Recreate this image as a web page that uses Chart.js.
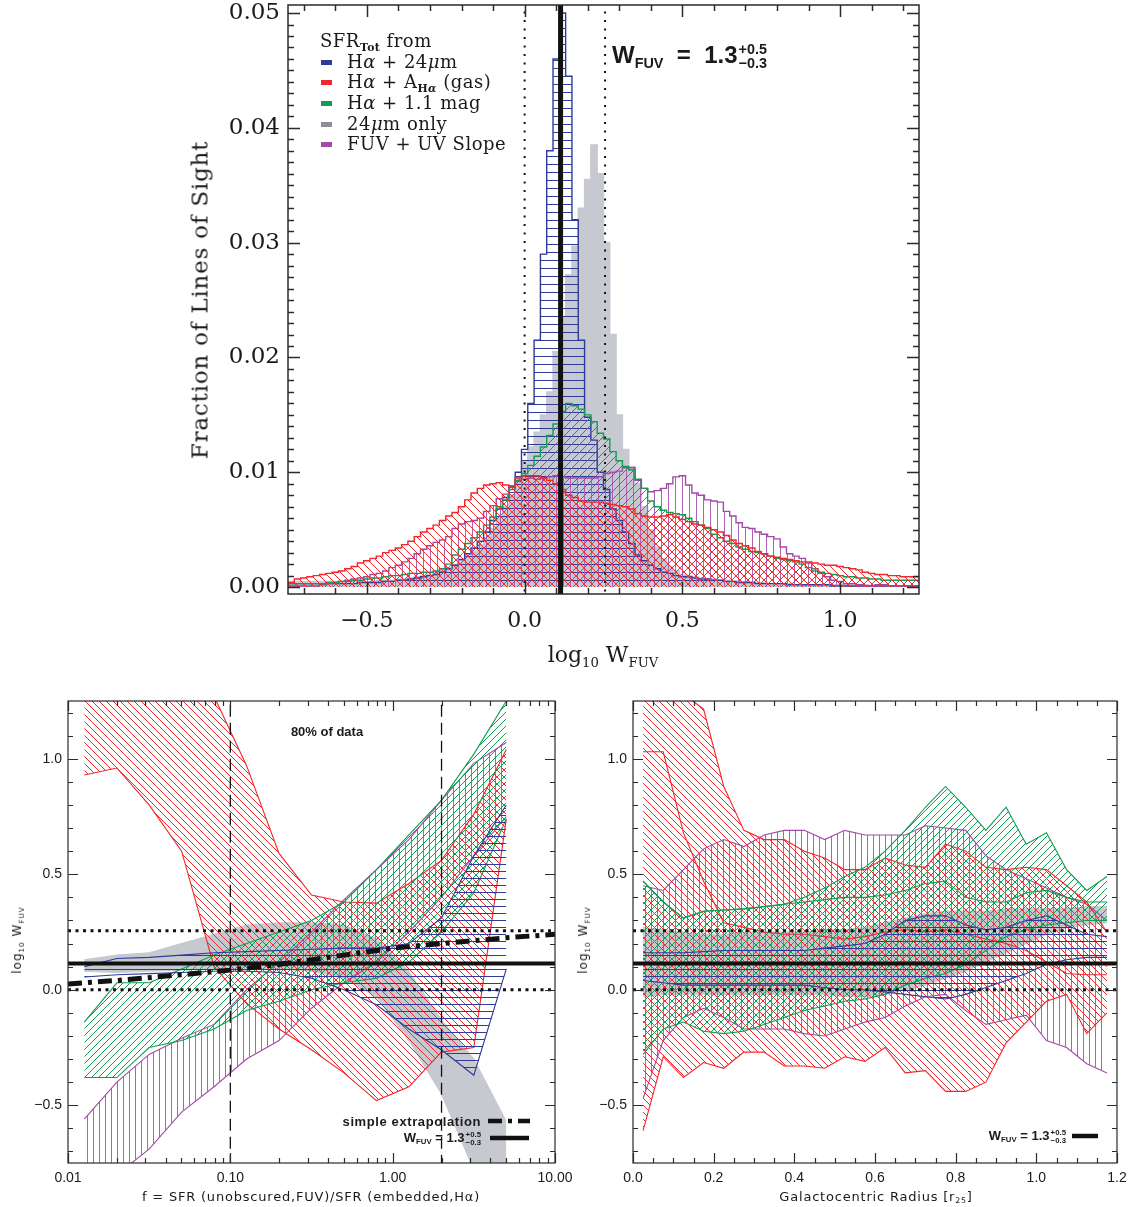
<!DOCTYPE html>
<html lang="en">
<head>
<meta charset="UTF-8">
<title>W_FUV calibration</title>
<script src="https://cdn.jsdelivr.net/npm/chart.js@4.4.1/dist/chart.umd.min.js"></script>
<style>
  body{margin:0;background:#fff}
  #page{position:relative;width:1135px;height:1207px;overflow:hidden;background:#fff;color:#1a1a1a}
  canvas{position:absolute;left:0;top:0}
  .t{position:absolute;white-space:nowrap;line-height:1}
  .t sub{font-size:0.6em;vertical-align:-0.35em;line-height:0}
  .serif{font-family:'DejaVu Serif',serif}
  .sans{font-family:'DejaVu Sans',sans-serif}
  .bold{font-family:'Liberation Sans',Arial,sans-serif;font-weight:bold}
  .stack{display:inline-flex;flex-direction:column;vertical-align:middle;line-height:0.95;font-size:0.6em;margin-left:1px}
  .sw{position:absolute;width:11px;height:5px}
  .rot{transform:translate(-50%,-50%) rotate(-90deg)}
  .c{transform:translate(-50%,-50%)}
  .l{transform:translate(0,-50%)}
  .r{transform:translate(-100%,-50%)}
</style>
</head>
<body>
<div id="page">
  <canvas id="topChart" width="1135" height="1207"></canvas>
  <canvas id="leftChart" width="1135" height="1207"></canvas>
  <canvas id="rightChart" width="1135" height="1207"></canvas>

  <!-- top panel text -->
  <div class="t serif rot" style="left:200px;top:300px;font-size:23px;letter-spacing:0.8px">Fraction of Lines of Sight</div>
  <div class="t serif c" style="left:603px;top:655px;font-size:22px">log<sub>10</sub> W<sub>FUV</sub></div>
  <div class="t serif l" style="left:320px;top:41px;font-size:18px;letter-spacing:0.5px">SFR<sub style="font-weight:bold">Tot</sub> from</div>
  <div class="sw" style="left:321px;top:60px;background:#2e3b98"></div>
  <div class="t serif l" style="left:347px;top:62px;font-size:18px;letter-spacing:0.5px">H<i>α</i> + 24<i>μ</i>m</div>
  <div class="sw" style="left:321px;top:80px;background:#f2262b"></div>
  <div class="t serif l" style="left:347px;top:82px;font-size:18px;letter-spacing:0.5px">H<i>α</i> + A<sub style="font-weight:bold">H<i>α</i></sub> (gas)</div>
  <div class="sw" style="left:321px;top:101px;background:#0c9f4f"></div>
  <div class="t serif l" style="left:347px;top:103px;font-size:18px;letter-spacing:0.5px">H<i>α</i> + 1.1 mag</div>
  <div class="sw" style="left:321px;top:122px;background:#8b8f96"></div>
  <div class="t serif l" style="left:347px;top:124px;font-size:18px;letter-spacing:0.5px">24<i>μ</i>m only</div>
  <div class="sw" style="left:321px;top:142px;background:#a24aa8"></div>
  <div class="t serif l" style="left:347px;top:144px;font-size:18px;letter-spacing:0.5px">FUV + UV Slope</div>
  <div class="t bold l" style="left:612px;top:57px;font-size:24px">W<sub>FUV</sub>&nbsp; = &nbsp;1.3<span class="stack"><span>+0.5</span><span>−0.3</span></span></div>

  <!-- bottom left text -->
  <div class="t bold c" style="left:327px;top:731px;font-size:13px">80% of data</div>
  <div class="t sans rot" style="left:17px;top:940px;font-size:12px;letter-spacing:1px">log<sub>10</sub> W<sub>FUV</sub></div>
  <div class="t sans c" style="left:311px;top:1196px;font-size:13px;letter-spacing:0.8px">f = SFR (unobscured,FUV)/SFR (embedded,Hα)</div>
  <div class="t bold r" style="left:481px;top:1121px;font-size:13px;letter-spacing:0.6px">simple extrapolation</div>
  <div class="t bold r" style="left:481px;top:1138px;font-size:13px">W<sub>FUV</sub> = 1.3<span class="stack"><span>+0.5</span><span>−0.3</span></span></div>
  <svg style="position:absolute;left:486px;top:1114px" width="46" height="30">
    <line x1="2" y1="7" x2="44" y2="7" stroke="#111" stroke-width="4.5" stroke-dasharray="14 6 4 6"/>
    <line x1="4" y1="24" x2="43" y2="24" stroke="#111" stroke-width="4.5"/>
  </svg>

  <!-- bottom right text -->
  <div class="t sans rot" style="left:583px;top:940px;font-size:12px;letter-spacing:1px">log<sub>10</sub> W<sub>FUV</sub></div>
  <div class="t sans c" style="left:876px;top:1196px;font-size:13px;letter-spacing:0.8px">Galactocentric Radius [r<sub>25</sub>]</div>
  <div class="t bold r" style="left:1066px;top:1136px;font-size:13px">W<sub>FUV</sub> = 1.3<span class="stack"><span>+0.5</span><span>−0.3</span></span></div>
  <svg style="position:absolute;left:1070px;top:1130px" width="30" height="12">
    <line x1="2" y1="6" x2="28" y2="6" stroke="#111" stroke-width="4.5"/>
  </svg>
</div>

<script>
// ---------- top panel: histograms of log10 W_FUV ----------
const EDGE0 = -0.75;     // left edge of first bin
const BIN = 0.02;        // bin width
const histBlue = [
  .0003,.0003,.0003,.0003,.0003,.0003,.0003,.0003,.0003,.0003,
  .0003,.0004,.0004,.0004,.0004,.0005,.0005,.0006,.0006,.0007,
  .0008,.0009,.0010,.0011,.0013,.0016,.0019,.0024,.0029,.0034,
  .0040,.0048,.0058,.0068,.0078,.0088,.0100,.0120,.0160,.0215,
  .0290,.0380,.0460,.0500,.0445,.0320,.0215,.0148,.0128,.0100,
  .0085,.0068,.0058,.0048,.0038,.0028,.0023,.0019,.0016,.0013,
  .0012,.0010,.0009,.0009,.0008,.0007,.0007,.0006,.0006,.0005,
  .0005,.0004,.0004,.0004,.0003,.0003,.0003,.0003,.0003,.0002,
  .0002,.0002,.0002,.0002,.0002,.0002,.0001,.0001,.0001,.0001,
  .0001,.0001,.0001,.0001,.0001,.0001,.0001,.0001,.0001,.0001];
const histGray = [
  .0005,.0005,.0005,.0005,.0005,.0005,.0005,.0005,.0005,.0005,
  .0005,.0005,.0005,.0005,.0006,.0006,.0006,.0007,.0007,.0008,
  .0009,.0010,.0011,.0013,.0015,.0017,.0020,.0023,.0027,.0031,
  .0037,.0043,.0051,.0060,.0070,.0080,.0095,.0110,.0122,.0135,
  .0150,.0170,.0205,.0235,.0272,.0297,.0330,.0355,.0385,.0360,
  .0300,.0220,.0150,.0120,.0105,.0090,.0070,.0050,.0035,.0025,
  .0018,.0014,.0011,.0010,.0009,.0008,.0007,.0007,.0006,.0006,
  .0005,.0005,.0005,.0004,.0004,.0004,.0003,.0003,.0003,.0003,
  .0002,.0002,.0002,.0002,.0002,.0002,.0002,.0002,.0002,.0002,
  .0002,.0002,.0001,.0001,.0001,.0001,.0001,.0001,.0001,.0001];
const histGreen = [
  .0003,.0003,.0003,.0003,.0003,.0003,.0004,.0004,.0005,.0005,
  .0006,.0006,.0007,.0008,.0008,.0009,.0010,.0010,.0011,.0012,
  .0012,.0013,.0013,.0014,.0016,.0020,.0028,.0033,.0038,.0043,
  .0048,.0054,.0061,.0070,.0076,.0085,.0093,.0099,.0106,.0114,
  .0122,.0132,.0142,.0153,.0160,.0158,.0155,.0150,.0144,.0134,
  .0129,.0118,.0110,.0105,.0102,.0094,.0086,.0075,.0070,.0067,
  .0065,.0064,.0063,.0060,.0057,.0054,.0051,.0046,.0043,.0040,
  .0038,.0035,.0033,.0031,.0030,.0029,.0027,.0025,.0024,.0023,
  .0022,.0020,.0017,.0014,.0013,.0012,.0011,.0010,.0009,.0009,
  .0008,.0008,.0007,.0007,.0006,.0006,.0006,.0006,.0006,.0006];
const histRed = [
  .0004,.0007,.0008,.0009,.0010,.0011,.0012,.0013,.0014,.0016,
  .0018,.0021,.0023,.0025,.0027,.0030,.0032,.0034,.0037,.0040,
  .0044,.0048,.0051,.0054,.0058,.0062,.0065,.0070,.0076,.0082,
  .0086,.0089,.0090,.0091,.0089,.0087,.0095,.0097,.0097,.0097,
  .0095,.0093,.0090,.0085,.0080,.0078,.0075,.0074,.0074,.0074,
  .0073,.0072,.0071,.0070,.0068,.0064,.0062,.0061,.0061,.0062,
  .0063,.0061,.0059,.0057,.0055,.0054,.0052,.0050,.0048,.0045,
  .0041,.0038,.0036,.0034,.0031,.0029,.0027,.0026,.0025,.0024,
  .0023,.0022,.0022,.0021,.0020,.0019,.0019,.0018,.0017,.0016,
  .0015,.0013,.0012,.0011,.0011,.0010,.0010,.0009,.0009,.0009];
const histPurple = [
  .0001,.0001,.0001,.0001,.0001,.0002,.0003,.0004,.0005,.0006,
  .0007,.0008,.0009,.0011,.0012,.0014,.0017,.0019,.0022,.0025,
  .0029,.0033,.0036,.0039,.0041,.0044,.0051,.0055,.0057,.0058,
  .0060,.0066,.0071,.0077,.0081,.0087,.0092,.0094,.0095,.0094,
  .0095,.0096,.0097,.0096,.0095,.0095,.0095,.0095,.0095,.0096,
  .0099,.0100,.0101,.0104,.0104,.0093,.0086,.0083,.0084,.0086,
  .0090,.0096,.0097,.0089,.0082,.0080,.0076,.0075,.0074,.0066,
  .0062,.0056,.0052,.0051,.0048,.0046,.0044,.0042,.0035,.0029,
  .0027,.0025,.0021,.0016,.0012,.0009,.0006,.0005,.0003,.0003,
  .0002,.0001,.0001,.0002,.0002,.0001,.0001,.0001,.0001,.0001];

// adopted W_FUV = 1.3 (+0.5 / -0.3) in log10
const W_MED = 0.114, W_LO = 0.0, W_HI = 0.255;
const topXTicks = [-0.5, 0, 0.5, 1.0];
const topYTicks = [0, 0.01, 0.02, 0.03, 0.04, 0.05];

// ---------- bottom left: 80% ranges vs f ----------
const fBins = [0.0126, 0.0200, 0.0316, 0.0501, 0.0794, 0.1259, 0.1995, 0.3162, 0.5012, 0.7943, 1.259, 1.995, 3.162, 5.012];
const fRedHi    = [1.30, 1.30, 1.30, 1.30, 1.27, 0.97, 0.59, 0.41, 0.38, 0.375, 0.46, 0.56, 0.76, 1.04];
const fRedLo    = [0.93, 0.96, 0.80, 0.60, 0.10, -0.06, -0.17, -0.26, -0.36, -0.48, -0.42, -0.27, -0.25, 0.74];
const fGreenHi  = [-0.14, 0.03, 0.03, 0.09, 0.15, 0.20, 0.25, 0.30, 0.38, 0.52, 0.67, 0.82, 1.02, 1.25];
const fGreenLo  = [-0.38, -0.38, -0.25, -0.22, -0.17, -0.09, -0.05, 0.00, 0.03, 0.05, 0.12, 0.25, 0.42, 0.74];
const fBlueHi   = [0.10, 0.135, 0.14, 0.15, 0.16, 0.165, 0.17, 0.175, 0.18, 0.18, 0.20, 0.31, 0.58, 0.80];
const fBlueLo   = [0.055, 0.065, 0.07, 0.075, 0.08, 0.08, 0.075, 0.05, 0.00, -0.065, -0.17, -0.26, -0.37, 0.09];
const fGrayHi   = [0.13, 0.15, 0.16, 0.20, 0.24, 0.28, 0.29, 0.29, 0.28, 0.22, 0.08, -0.13, -0.30, -0.57];
const fGrayLo   = [0.08, 0.075, 0.08, 0.085, 0.09, 0.09, 0.09, 0.08, 0.05, -0.03, -0.22, -0.45, -0.78, -0.95];
const fPurpleHi = [-0.56, -0.40, -0.28, -0.21, -0.15, 0.00, 0.12, 0.25, 0.39, 0.52, 0.65, 0.82, 0.98, 1.07];
const fPurpleLo = [-0.80, -0.80, -0.69, -0.53, -0.42, -0.30, -0.22, -0.08, 0.03, 0.12, 0.25, 0.40, 0.58, 0.75];
const extrapF = [0.01, 0.02, 0.05, 0.1, 0.2, 0.5, 1, 2, 5, 10];
const extrapW = [0.025, 0.04, 0.065, 0.085, 0.11, 0.15, 0.18, 0.20, 0.225, 0.24];
const fCuts = [0.1, 2.0];
const leftXTicks = [0.01, 0.1, 1, 10];
const lowYTicks = [-0.5, 0, 0.5, 1.0];

// ---------- bottom right: 80% ranges vs radius ----------
const rBins = [0.025, 0.075, 0.125, 0.175, 0.225, 0.275, 0.325, 0.375, 0.425, 0.475, 0.525, 0.575,
               0.625, 0.675, 0.725, 0.775, 0.825, 0.875, 0.925, 0.975, 1.025, 1.075, 1.125, 1.175];
const rRedHi    = [1.40, 1.35, 1.28, 1.215, 0.88, 0.69, 0.65, 0.65, 0.60, 0.57, 0.52, 0.52, 0.57, 0.54, 0.53, 0.63, 0.60, 0.53, 0.52, 0.53, 0.52, 0.45, 0.38, 0.25];
const rRedLo    = [-0.61, -0.29, -0.38, -0.315, -0.34, -0.27, -0.27, -0.33, -0.33, -0.34, -0.29, -0.31, -0.25, -0.36, -0.35, -0.44, -0.44, -0.40, -0.23, -0.14, -0.05, -0.02, -0.19, -0.10];
const rRedMid   = [1.03, 1.03, 0.68, 0.47, 0.29, 0.27, 0.25, 0.24, 0.24, 0.23, 0.22, 0.23, 0.25, 0.26, 0.25, 0.26, 0.24, 0.22, 0.20, 0.17, 0.12, 0.07, 0.065, 0.065];
const rPurpleHi = [0.45, 0.43, 0.52, 0.61, 0.65, 0.62, 0.67, 0.69, 0.69, 0.65, 0.69, 0.67, 0.67, 0.67, 0.71, 0.70, 0.69, 0.58, 0.52, 0.48, 0.44, 0.40, 0.37, 0.30];
const rPurpleLo = [-0.47, -0.22, -0.12, -0.08, -0.12, -0.17, -0.17, -0.17, -0.19, -0.20, -0.17, -0.14, -0.12, -0.07, -0.03, -0.02, -0.09, -0.15, -0.13, -0.11, -0.22, -0.25, -0.32, -0.36];
const rGreenHi  = [0.47, 0.38, 0.31, 0.34, 0.345, 0.35, 0.36, 0.37, 0.40, 0.44, 0.49, 0.53, 0.60, 0.69, 0.79, 0.88, 0.79, 0.69, 0.79, 0.63, 0.68, 0.52, 0.43, 0.49];
const rGreenLo  = [-0.28, -0.17, -0.14, -0.18, -0.19, -0.18, -0.15, -0.12, -0.09, -0.07, -0.05, -0.04, -0.02, 0.02, 0.05, 0.07, 0.11, 0.17, 0.23, 0.26, 0.28, 0.29, 0.30, 0.30];
const rGreenMid = [0.47, 0.38, 0.31, 0.34, 0.345, 0.35, 0.36, 0.37, 0.38, 0.39, 0.40, 0.40, 0.41, 0.43, 0.46, 0.47, 0.40, 0.38, 0.38, 0.42, 0.43, 0.40, 0.38, 0.38];
const rBlueHi   = [0.16, 0.16, 0.16, 0.165, 0.17, 0.17, 0.17, 0.17, 0.17, 0.18, 0.19, 0.20, 0.24, 0.30, 0.32, 0.32, 0.28, 0.26, 0.27, 0.30, 0.32, 0.28, 0.24, 0.23];
const rBlueLo   = [0.04, 0.03, 0.02, 0.02, 0.02, 0.02, 0.02, 0.02, 0.02, 0.01, 0.00, 0.00, -0.01, -0.02, -0.03, -0.04, -0.02, 0.01, 0.04, 0.07, 0.11, 0.13, 0.14, 0.14];
const rGrayHi   = [0.27, 0.26, 0.25, 0.24, 0.24, 0.25, 0.25, 0.25, 0.25, 0.26, 0.26, 0.27, 0.29, 0.31, 0.33, 0.34, 0.34, 0.34, 0.35, 0.35, 0.35, 0.35, 0.36, 0.36];
const rGrayLo   = [-0.03, -0.02, -0.02, -0.02, -0.02, -0.02, -0.02, -0.02, -0.02, -0.02, -0.03, -0.03, -0.02, 0.00, 0.02, 0.05, 0.08, 0.12, 0.16, 0.20, 0.24, 0.27, 0.28, 0.29];
const rightXTicks = [0, 0.2, 0.4, 0.6, 0.8, 1.0, 1.2];

// ---------- styling ----------
const BLUE = '#2e3b98', RED = '#f2262b', GREEN = '#0c9f4f', PURPLE = '#a24aa8', GRAY = '#c6c9d0';

function hatch(ctx, color, kind, gap, lw) {
  const c = document.createElement('canvas');
  c.width = gap; c.height = gap;
  const g = c.getContext('2d');
  g.strokeStyle = color; g.lineWidth = lw || 1;
  g.beginPath();
  const m = Math.floor(gap / 2) + 0.5;
  if (kind === 'h') { g.moveTo(0, m); g.lineTo(gap, m); }
  else if (kind === 'v') { g.moveTo(m, 0); g.lineTo(m, gap); }
  else if (kind === '/') {
    g.moveTo(-1, gap + 1); g.lineTo(gap + 1, -1);
    g.moveTo(-1, 1); g.lineTo(1, -1);
    g.moveTo(gap - 1, gap + 1); g.lineTo(gap + 1, gap - 1);
  } else {
    g.moveTo(-1, -1); g.lineTo(gap + 1, gap + 1);
    g.moveTo(gap - 1, -1); g.lineTo(gap + 1, 1);
    g.moveTo(-1, gap - 1); g.lineTo(1, gap + 1);
  }
  g.stroke();
  return ctx.createPattern(c, 'repeat');
}

const histPoints = vals => vals.map((v, i) => ({x: EDGE0 + i * BIN, y: v}))
  .concat([{x: EDGE0 + vals.length * BIN, y: vals[vals.length - 1]}]);
const pts = (xs, ys) => xs.map((x, i) => ({x: x, y: ys[i]}));
const fmt = d => v => Number(v).toFixed(d).replace('-', '\u2212');

// box with inward ticks on all four sides, IDL style
const framePlugin = {
  id: 'frame',
  afterDraw(chart, args, o) {
    const ctx = chart.ctx, a = chart.chartArea, sx = chart.scales.x, sy = chart.scales.y;
    ctx.save();
    ctx.strokeStyle = '#2b2b2b';
    ctx.lineWidth = o.lw;
    ctx.beginPath();
    const mark = (vals, len, horiz) => vals.forEach(v => {
      if (horiz) {
        const p = Math.round(sx.getPixelForValue(v)) + 0.5;
        ctx.moveTo(p, a.bottom); ctx.lineTo(p, a.bottom - len);
        ctx.moveTo(p, a.top); ctx.lineTo(p, a.top + len);
      } else {
        const p = Math.round(sy.getPixelForValue(v)) + 0.5;
        ctx.moveTo(a.left, p); ctx.lineTo(a.left + len, p);
        ctx.moveTo(a.right, p); ctx.lineTo(a.right - len, p);
      }
    });
    mark(o.xMajor, o.major, true); mark(o.xMinor, o.minor, true);
    mark(o.yMajor, o.major, false); mark(o.yMinor, o.minor, false);
    ctx.stroke();
    ctx.strokeRect(a.left, a.top, a.right - a.left, a.bottom - a.top);
    ctx.restore();
  }
};

function axis(o) {
  return {
    type: o.type || 'linear', min: o.min, max: o.max,
    grid: {display: false, drawTicks: false}, border: {display: false},
    ticks: {autoSkip: false, maxRotation: 0, padding: o.pad, color: '#1a1a1a', font: o.font, callback: o.fmt},
    afterBuildTicks: s => { s.ticks = o.ticks.map(v => ({value: v})); },
    afterFit: s => {
      if (o.w !== undefined) s.width = o.w;
      if (o.h !== undefined) s.height = o.h;
      // labels must not push the plot area around
      s.paddingTop = 0; s.paddingBottom = 0; s.paddingLeft = 0; s.paddingRight = 0;
    }
  };
}

function baseOptions(pad, frame, x, y) {
  return {
    responsive: false, animation: false, events: [],
    layout: {padding: pad},
    elements: {point: {radius: 0}, line: {tension: 0}},
    plugins: {legend: {display: false}, tooltip: {enabled: false}, frame: frame},
    scales: {x: x, y: y}
  };
}

function range(a, b, step) { const out = []; for (let v = a; v <= b + 1e-9; v += step) out.push(+v.toFixed(4)); return out; }

// ---------- top chart ----------
const topCanvas = document.getElementById('topChart');
const tctx = topCanvas.getContext('2d');
const histSet = (vals, color, fillStyle, order) => ({
  data: histPoints(vals), stepped: 'before', fill: 'origin', backgroundColor: fillStyle,
  borderColor: color, borderWidth: 1.4, order: order, clip: 0
});
const vline = (x, width, dash, order) => ({
  data: [{x: x, y: -0.01}, {x: x, y: 0.06}], borderColor: '#111', borderWidth: width,
  borderDash: dash, fill: false, order: order, clip: 0
});
new Chart(topCanvas, {
  type: 'line',
  data: {datasets: [
    histSet(histGray, GRAY, GRAY, 20),
    histSet(histBlue, BLUE, hatch(tctx, BLUE, 'h', 8), 19),
    histSet(histPurple, PURPLE, hatch(tctx, '#b060b8', 'v', 7), 18),
    histSet(histGreen, GREEN, hatch(tctx, GREEN, '/', 8), 17),
    histSet(histRed, RED, hatch(tctx, RED, '\\', 8), 16),
    vline(W_LO, 2, [2, 6.5], 3),
    vline(W_HI, 2, [2, 6.5], 2),
    vline(W_MED, 5, [], 1)
  ]},
  options: baseOptions(
    {left: 218, right: 216, top: 5, bottom: 563},
    {lw: 1.5, major: 12, minor: 6, xMajor: topXTicks, xMinor: range(-0.7, 1.2, 0.1),
     yMajor: topYTicks, yMinor: range(0.001, 0.05, 0.001)},
    axis({min: -0.75, max: 1.25, ticks: topXTicks, fmt: fmt(1), pad: 14, h: 50,
          font: {family: 'DejaVu Serif', size: 22}}),
    axis({min: -0.0006, max: 0.0507, ticks: topYTicks, fmt: fmt(2), pad: 8, w: 70,
          font: {family: 'DejaVu Serif', size: 23}})
  ),
  plugins: [framePlugin]
});

// ---------- bottom charts ----------
const band = (xs, hi, lo, color, fillStyle, order) => [
  {data: pts(xs, hi), fill: '+1', backgroundColor: fillStyle, borderColor: color, borderWidth: 1.1, order: order, clip: 0},
  {data: pts(xs, lo), fill: false, borderColor: color, borderWidth: 1.1, order: order, clip: 0}
];
const plainLine = (xs, ys, color, order) => ({data: pts(xs, ys), fill: false, borderColor: color, borderWidth: 1.1, order: order, clip: 0});
const hline = (x0, x1, y, width, dash, order) => ({
  data: [{x: x0, y: y}, {x: x1, y: y}], borderColor: '#111', borderWidth: width, borderDash: dash,
  fill: false, order: order, clip: 0
});
const lowFont = {family: 'Liberation Sans', size: 14};
const lowYMinor = range(-0.7, 1.2, 0.1);

const leftCanvas = document.getElementById('leftChart');
const lctx = leftCanvas.getContext('2d');
const logMinor = [];
[0.01, 0.1, 1].forEach(d => { for (let k = 2; k <= 9; k++) logMinor.push(d * k); });
new Chart(leftCanvas, {
  type: 'line',
  data: {datasets: [].concat(
    band(fBins, fGrayHi, fGrayLo, GRAY, GRAY, 30),
    band(fBins, fPurpleHi, fPurpleLo, PURPLE, hatch(lctx, '#b060b8', 'v', 6), 28),
    band(fBins, fRedHi, fRedLo, RED, hatch(lctx, RED, '\\', 7), 26),
    band(fBins, fGreenHi, fGreenLo, GREEN, hatch(lctx, GREEN, '/', 7), 24),
    band(fBins, fBlueHi, fBlueLo, BLUE, hatch(lctx, BLUE, 'h', 7), 22),
    [
      {data: [{x: fCuts[0], y: -1}, {x: fCuts[0], y: 1.5}], borderColor: '#111', borderWidth: 1.3, borderDash: [12, 6], fill: false, order: 6, clip: 0},
      {data: [{x: fCuts[1], y: -1}, {x: fCuts[1], y: 1.5}], borderColor: '#111', borderWidth: 1.3, borderDash: [12, 6], fill: false, order: 5, clip: 0},
      hline(0.01, 10, W_LO, 3, [3, 4.5], 4),
      hline(0.01, 10, W_HI, 3, [3, 4.5], 3),
      hline(0.01, 10, W_MED, 4, [], 2),
      {data: pts(extrapF, extrapW), borderColor: '#111', borderWidth: 5, borderDash: [14, 6, 4, 6], fill: false, order: 1, clip: 0}
    ]
  )},
  options: baseOptions(
    {left: 18, right: 580, top: 701, bottom: 14},
    {lw: 1.2, major: 10, minor: 5, xMajor: leftXTicks, xMinor: logMinor, yMajor: lowYTicks, yMinor: lowYMinor},
    axis({type: 'logarithmic', min: 0.01, max: 10, ticks: leftXTicks, fmt: fmt(2), pad: 7, h: 30, font: lowFont}),
    axis({min: -0.75, max: 1.25, ticks: lowYTicks, fmt: fmt(1), pad: 6, w: 50, font: lowFont})
  ),
  plugins: [framePlugin]
});

const rightCanvas = document.getElementById('rightChart');
const rctx = rightCanvas.getContext('2d');
new Chart(rightCanvas, {
  type: 'line',
  data: {datasets: [].concat(
    band(rBins, rGrayHi, rGrayLo, GRAY, GRAY, 30),
    band(rBins, rPurpleHi, rPurpleLo, PURPLE, hatch(rctx, '#b060b8', 'v', 6), 28),
    band(rBins, rRedHi, rRedLo, RED, hatch(rctx, RED, '\\', 7), 26),
    [plainLine(rBins, rRedMid, RED, 25)],
    band(rBins, rGreenHi, rGreenLo, GREEN, hatch(rctx, GREEN, '/', 7), 24),
    [plainLine(rBins, rGreenMid, GREEN, 23)],
    band(rBins, rBlueHi, rBlueLo, BLUE, hatch(rctx, BLUE, 'h', 7), 22),
    [
      hline(0, 1.2, W_LO, 3, [3, 4.5], 4),
      hline(0, 1.2, W_HI, 3, [3, 4.5], 3),
      hline(0, 1.2, W_MED, 4, [], 2)
    ]
  )},
  options: baseOptions(
    {left: 583, right: 18, top: 701, bottom: 14},
    {lw: 1.2, major: 10, minor: 5, xMajor: rightXTicks, xMinor: range(0.05, 1.15, 0.05), yMajor: lowYTicks, yMinor: lowYMinor},
    axis({min: 0, max: 1.2, ticks: rightXTicks, fmt: fmt(1), pad: 7, h: 30, font: lowFont}),
    axis({min: -0.75, max: 1.25, ticks: lowYTicks, fmt: fmt(1), pad: 6, w: 50, font: lowFont})
  ),
  plugins: [framePlugin]
});
</script>
</body>
</html>
